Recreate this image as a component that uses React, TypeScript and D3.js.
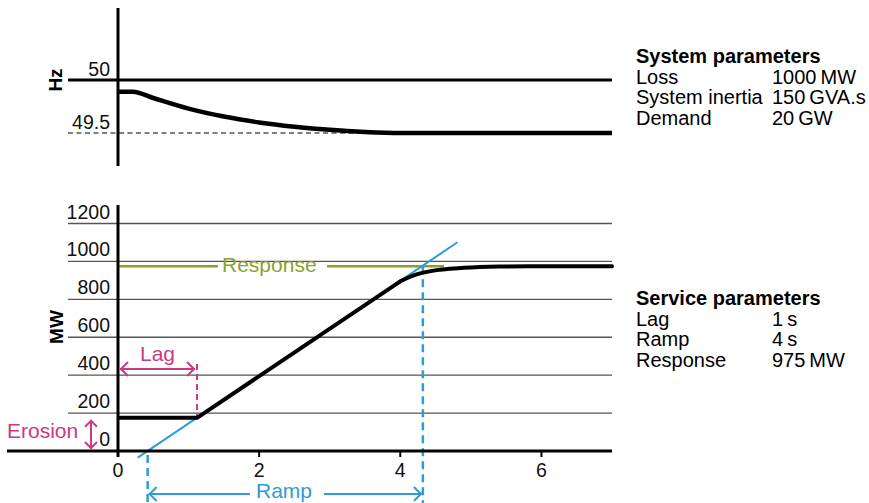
import React from "react";
import * as d3 from "d3";

// frequency trace (seconds, Hz)
const freqTime = [0, 0.21, 0.5, 1, 1.5, 2, 2.5, 3, 3.5, 4, 5, 7];
const freqHz = [49.89, 49.89, 49.83, 49.73, 49.655, 49.6, 49.56, 49.53, 49.51, 49.5, 49.5, 49.5];
const hzTicks = [49.5, 50];

// service delivery (seconds, MW)
const rampTime = [0, 1.12, 4];
const rampMW = [175, 175, 895];
const tailTime = [4, 4.2, 4.45, 4.9, 5.4, 6, 7];
const tailMW = [895, 928, 950, 966, 973, 975, 975];

// ramp tangent line (seconds, MW)
const tangentTime = [0.28, 4.81];
const tangentMW = [-35, 1101];

const mwTicks = [0, 200, 400, 600, 800, 1000, 1200];
const timeTicks = [0, 2, 4, 6];

const responseMW = 975;
const erosionMW = 175;
const lagEnd = 1.12;
const rampStart = 0.42;
const rampEnd = 4.32;

const systemParams = [
  ["Loss", "1000\u2009MW"],
  ["System inertia", "150\u2009GVA.s"],
  ["Demand", "20\u2009GW"],
];
const serviceParams = [
  ["Lag", "1\u2009s"],
  ["Ramp", "4\u2009s"],
  ["Response", "975\u2009MW"],
];

const PINK = "#c93a80";
const BLUE = "#2f9bd7";
const GREEN = "#8aa22c";
const FONT = "'Liberation Sans', Arial, sans-serif";

const x = d3.scaleLinear().domain([0, 7]).range([118, 612]);
const yHz = d3.scaleLinear().domain([49.5, 50]).range([133, 80]);
const yMW = d3.scaleLinear().domain([0, 1200]).range([451, 223.5]);

const chevron = (px: number, py: number, dir: "l" | "r" | "u" | "d", s = 7) => {
  if (dir === "l") return `M${px + s},${py - s} L${px},${py} L${px + s},${py + s}`;
  if (dir === "r") return `M${px - s},${py - s} L${px},${py} L${px - s},${py + s}`;
  if (dir === "u") return `M${px - s},${py + s} L${px},${py} L${px + s},${py + s}`;
  return `M${px - s},${py - s} L${px},${py} L${px + s},${py - s}`;
};

const App: React.FC = () => {
  const hzLine = d3
    .line<number>()
    .x((_, i) => x(freqTime[i]))
    .y((d) => yHz(d))
    .curve(d3.curveMonotoneX);

  const rampLine = d3
    .line<number>()
    .x((_, i) => x(rampTime[i]))
    .y((d) => yMW(d));

  const tailLine = d3
    .line<number>()
    .x((_, i) => x(tailTime[i]))
    .y((d) => yMW(d))
    .curve(d3.curveMonotoneX);

  const tangent = d3
    .line<number>()
    .x((_, i) => x(tangentTime[i]))
    .y((d) => yMW(d));

  const yResp = yMW(responseMW);
  const yErosion = yMW(erosionMW);
  const lagY = 369;
  const rampY = 494;

  return (
    <svg
      width={869}
      height={503}
      style={{ position: "absolute", left: 0, top: 0, background: "#fff" }}
      fontFamily={FONT}
    >
      {/* ---------- frequency panel ---------- */}
      <line x1={68} x2={400} y1={yHz(49.5)} y2={yHz(49.5)} stroke="#000" strokeWidth={1} strokeDasharray="5,3.5" />
      <line x1={68} x2={612} y1={yHz(50)} y2={yHz(50)} stroke="#000" strokeWidth={3} />
      <line x1={118} x2={118} y1={8} y2={166} stroke="#000" strokeWidth={3} />
      {hzTicks.map((t) => (
        <text key={t} x={110} y={yHz(t) - 4} textAnchor="end" fontSize={19.5} fill="#111">
          {t}
        </text>
      ))}
      <text transform={`translate(62,80) rotate(-90)`} textAnchor="middle" fontSize={19} fontWeight="bold">
        Hz
      </text>
      <path d={hzLine(freqHz) || ""} fill="none" stroke="#000" strokeWidth={4.5} />

      {/* ---------- MW panel ---------- */}
      {mwTicks
        .filter((t) => t > 0)
        .map((t) => (
          <line key={t} x1={68} x2={612} y1={yMW(t)} y2={yMW(t)} stroke="#555" strokeWidth={1.3} />
        ))}
      {mwTicks.map((t) => (
        <text key={t} x={110} y={yMW(t) - 5} textAnchor="end" fontSize={19.5} fill="#111">
          {t}
        </text>
      ))}
      <text transform={`translate(63,327) rotate(-90)`} textAnchor="middle" fontSize={19} fontWeight="bold">
        MW
      </text>

      {/* response level */}
      <line x1={x(0)} x2={218} y1={yResp} y2={yResp} stroke={GREEN} strokeWidth={2.5} />
      <line x1={327} x2={444} y1={yResp} y2={yResp} stroke={GREEN} strokeWidth={2.5} />
      <text x={222} y={yResp + 6} fontSize={21} fill={GREEN}>
        Response
      </text>

      {/* ramp tangent */}
      <path d={tangent(tangentMW) || ""} fill="none" stroke={BLUE} strokeWidth={2} />
      <line x1={x(rampStart)} x2={x(rampStart)} y1={455} y2={503} stroke={BLUE} strokeWidth={2.5} strokeDasharray="8,5" />
      <line x1={x(rampEnd)} x2={x(rampEnd)} y1={yResp} y2={503} stroke={BLUE} strokeWidth={2.5} strokeDasharray="8,5" />
      <line x1={x(rampStart) + 1} x2={250} y1={rampY} y2={rampY} stroke={BLUE} strokeWidth={2} />
      <line x1={324} x2={x(rampEnd) - 1} y1={rampY} y2={rampY} stroke={BLUE} strokeWidth={2} />
      <path d={chevron(x(rampStart) + 2, rampY, "l")} fill="none" stroke={BLUE} strokeWidth={2} />
      <path d={chevron(x(rampEnd) - 2, rampY, "r")} fill="none" stroke={BLUE} strokeWidth={2} />
      <text x={256} y={498} fontSize={21} fill={BLUE}>
        Ramp
      </text>

      {/* lag */}
      <line x1={x(0) + 2} x2={x(lagEnd) - 2} y1={lagY} y2={lagY} stroke={PINK} strokeWidth={2} />
      <path d={chevron(x(0) + 3, lagY, "l")} fill="none" stroke={PINK} strokeWidth={2} />
      <path d={chevron(x(lagEnd) - 3, lagY, "r")} fill="none" stroke={PINK} strokeWidth={2} />
      <line x1={x(lagEnd)} x2={x(lagEnd)} y1={lagY - 5} y2={yErosion} stroke={PINK} strokeWidth={2} strokeDasharray="6,4" />
      <text x={(x(0) + x(lagEnd)) / 2} y={361} textAnchor="middle" fontSize={21} fill={PINK}>
        Lag
      </text>

      {/* erosion */}
      <line x1={91} x2={91} y1={yErosion + 2} y2={449} stroke={PINK} strokeWidth={2} />
      <path d={chevron(91, yErosion + 3, "u", 6)} fill="none" stroke={PINK} strokeWidth={2} />
      <path d={chevron(91, 448, "d", 6)} fill="none" stroke={PINK} strokeWidth={2} />
      <text x={7} y={438} fontSize={21} fill={PINK}>
        Erosion
      </text>

      {/* delivered power */}
      <path d={rampLine(rampMW) || ""} fill="none" stroke="#000" strokeWidth={4} strokeLinejoin="round" />
      <path d={tailLine(tailMW) || ""} fill="none" stroke="#000" strokeWidth={4} strokeLinecap="round" />

      {/* axes */}
      <line x1={7} x2={612} y1={yMW(0)} y2={yMW(0)} stroke="#000" strokeWidth={3} />
      <line x1={118} x2={118} y1={205} y2={457} stroke="#000" strokeWidth={3} />
      {timeTicks.map((t) => (
        <g key={t}>
          {t > 0 && <line x1={x(t)} x2={x(t)} y1={yMW(0)} y2={457} stroke="#000" strokeWidth={2} />}
          <text x={x(t)} y={477} textAnchor="middle" fontSize={19.5} fill="#111">
            {t}
          </text>
        </g>
      ))}

      {/* parameter tables */}
      <text x={636} y={63} fontSize={20} fontWeight="bold">
        System parameters
      </text>
      {systemParams.map(([k, v], i) => (
        <g key={k} fontSize={20}>
          <text x={636} y={83.5 + i * 20.8}>{k}</text>
          <text x={772} y={83.5 + i * 20.8}>{v}</text>
        </g>
      ))}
      <text x={636} y={305} fontSize={20} fontWeight="bold">
        Service parameters
      </text>
      {serviceParams.map(([k, v], i) => (
        <g key={k} fontSize={20}>
          <text x={636} y={325.5 + i * 20.8}>{k}</text>
          <text x={772} y={325.5 + i * 20.8}>{v}</text>
        </g>
      ))}
    </svg>
  );
};

export default App;
